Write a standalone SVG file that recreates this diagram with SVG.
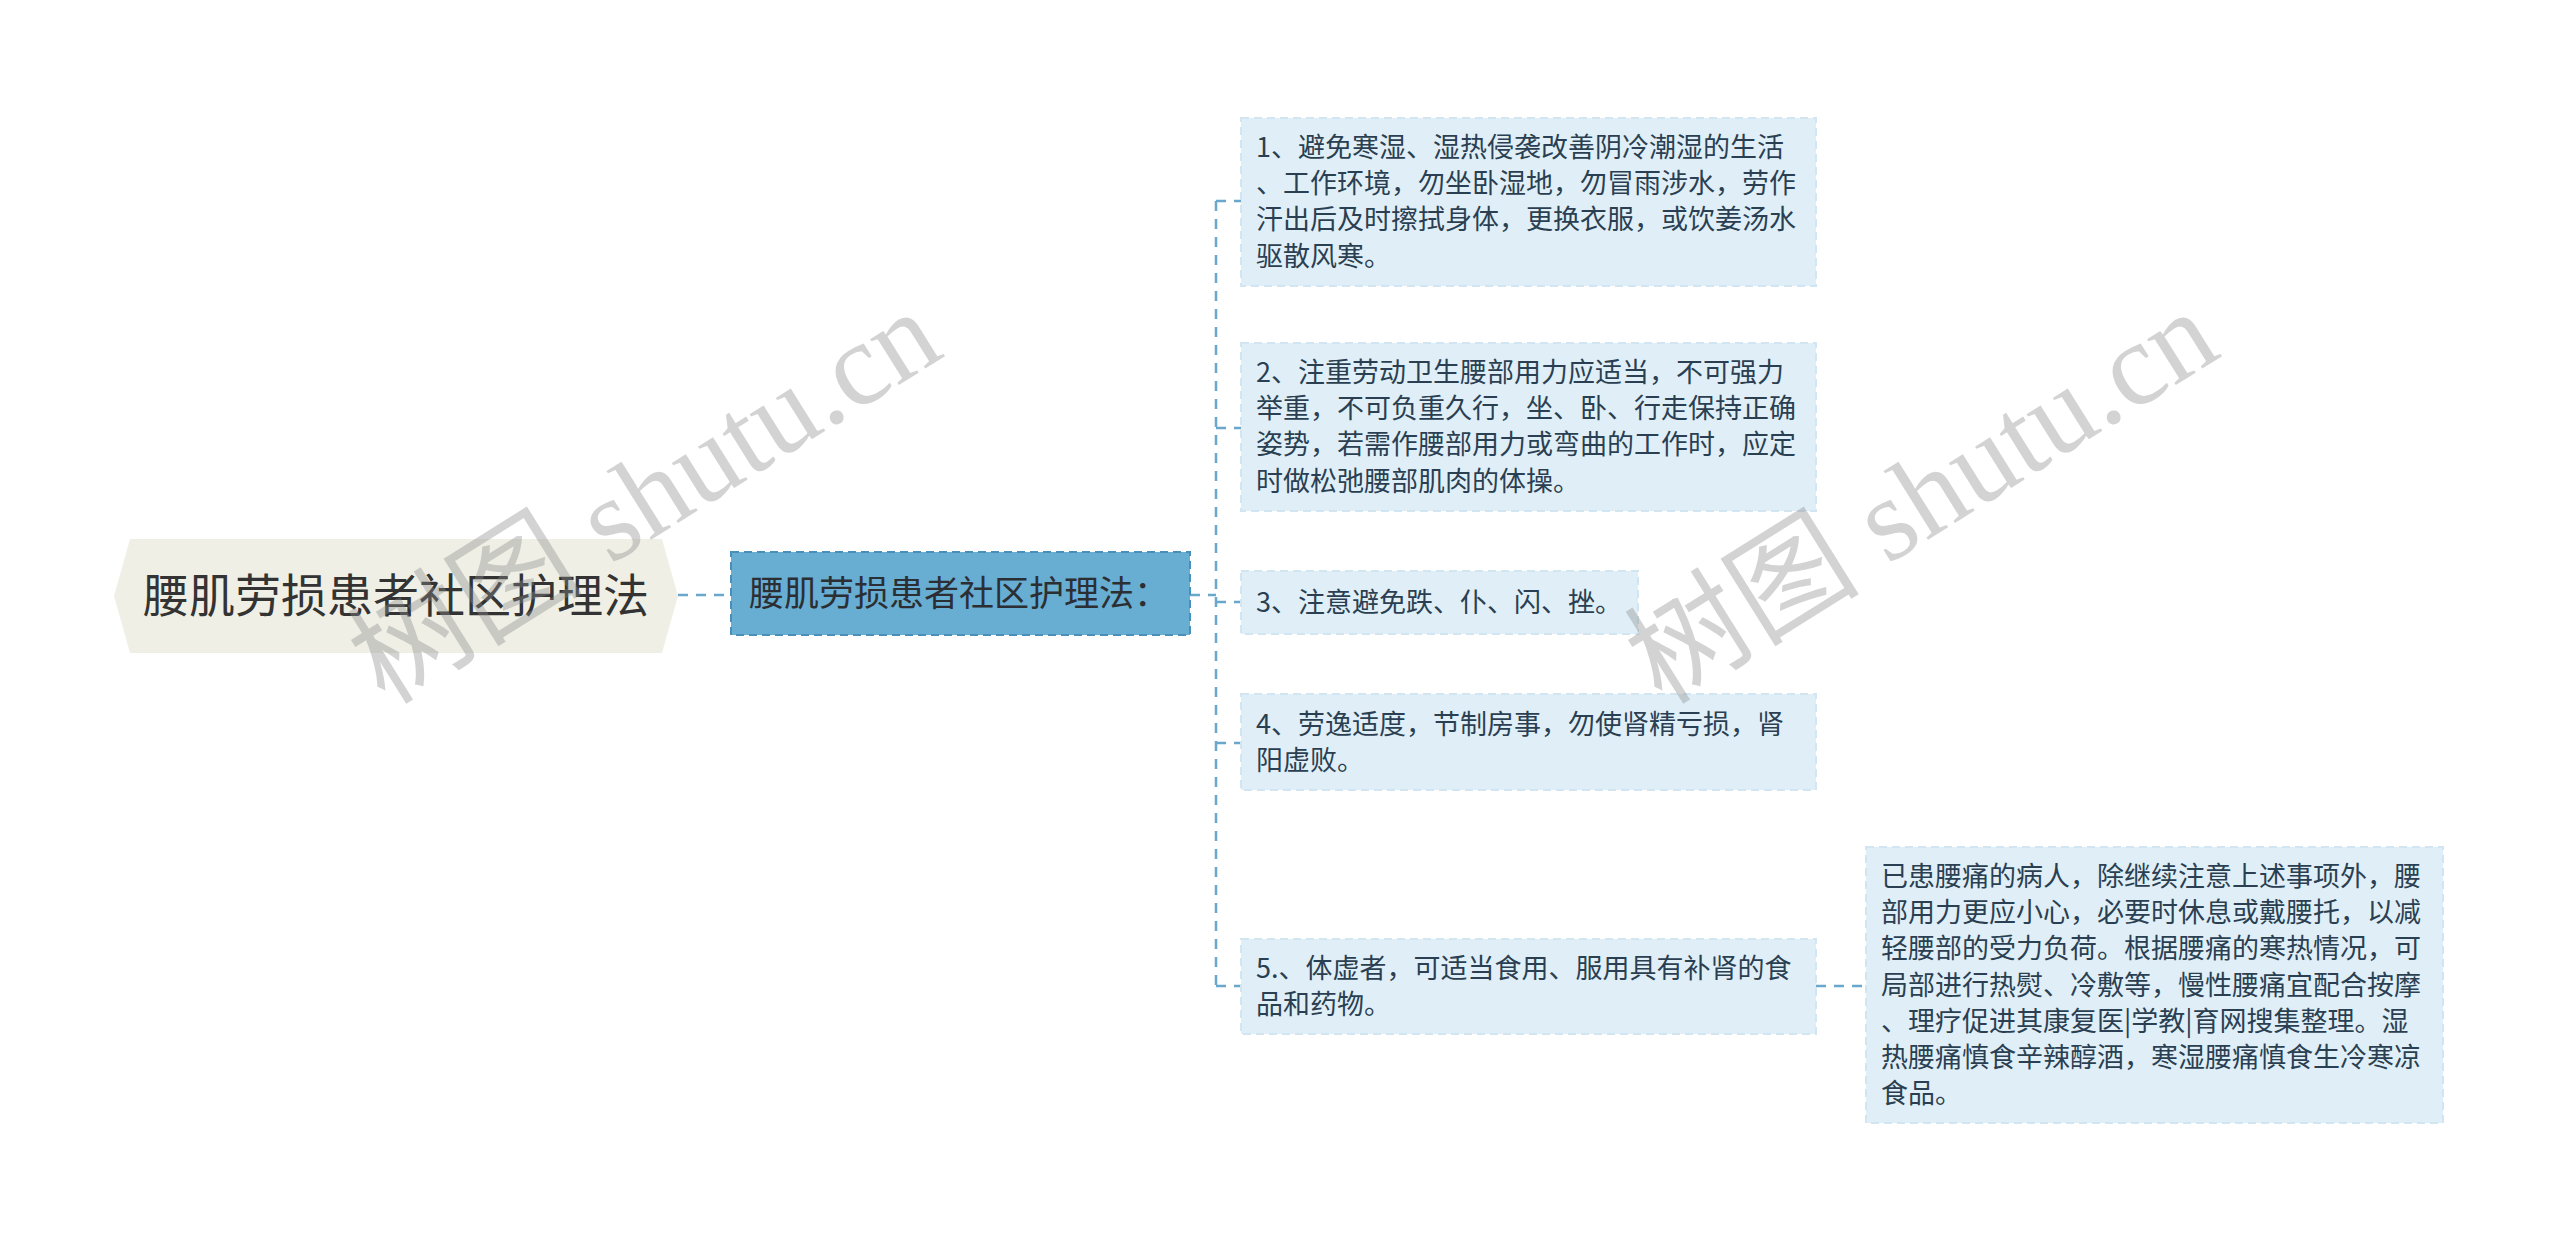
<svg xmlns="http://www.w3.org/2000/svg" width="2560" height="1241" viewBox="0 0 2560 1241">
<defs>
<style>
.cjk{font-family:"Noto Sans CJK SC","Noto Sans",sans-serif;}
.leaf rect{fill:#e0eff7;stroke:#d2e6f1;stroke-width:2;stroke-dasharray:8 5;}
.leaf text{font-size:27px;fill:#2b3f52;}
.conn{fill:none;stroke:#6aa7cc;stroke-width:2.5;stroke-dasharray:10 8;}
.wm{font-family:"Liberation Serif","Noto Sans CJK SC",serif;font-size:118px;fill:#8c8c8c;fill-opacity:0.38;}
</style>
</defs>
<rect width="2560" height="1241" fill="#ffffff"/>
<g id="connectors">
<path class="conn" d="M678 595 H731"/>
<path class="conn" d="M1190 595 H1216"/>
<path class="conn" d="M1216 201 V986"/>
<path class="conn" d="M1216 201 H1241"/>
<path class="conn" d="M1216 428 H1241"/>
<path class="conn" d="M1216 602 H1241"/>
<path class="conn" d="M1216 743 H1241"/>
<path class="conn" d="M1216 986 H1241"/>
<path class="conn" d="M1816 986 H1866"/>
</g>
<g id="root">
<polygon points="114,596 130,539 662,539 678,596 662,653 130,653" fill="#efefe6"/>
<text class="cjk" x="396" y="612" font-size="46" fill="#333333" text-anchor="middle">腰肌劳损患者社区护理法</text>
</g>
<g id="sub">
<rect x="731" y="552" width="459" height="83" fill="#68add2" stroke="#4a8fba" stroke-width="2" stroke-dasharray="8 5"/>
<text class="cjk" x="749" y="606" font-size="35" fill="#2b2f33">腰肌劳损患者社区护理法：</text>
</g>
<g id="leaf1" class="leaf cjk">
<rect x="1241" y="118" width="575" height="168"/>
<text x="1256"><tspan x="1256" y="157">1、避免寒湿、湿热侵袭改善阴冷潮湿的生活</tspan><tspan x="1256" y="193">、工作环境，勿坐卧湿地，勿冒雨涉水，劳作</tspan><tspan x="1256" y="229">汗出后及时擦拭身体，更换衣服，或饮姜汤水</tspan><tspan x="1256" y="266">驱散风寒。</tspan></text>
</g>
<g id="leaf2" class="leaf cjk">
<rect x="1241" y="343" width="575" height="168"/>
<text x="1256"><tspan x="1256" y="382">2、注重劳动卫生腰部用力应适当，不可强力</tspan><tspan x="1256" y="418">举重，不可负重久行，坐、卧、行走保持正确</tspan><tspan x="1256" y="454">姿势，若需作腰部用力或弯曲的工作时，应定</tspan><tspan x="1256" y="491">时做松弛腰部肌肉的体操。</tspan></text>
</g>
<g id="leaf3" class="leaf cjk">
<rect x="1241" y="571" width="397" height="63"/>
<text x="1256" y="612">3、注意避免跌、仆、闪、挫。</text>
</g>
<g id="leaf4" class="leaf cjk">
<rect x="1241" y="694" width="575" height="96"/>
<text x="1256"><tspan x="1256" y="734">4、劳逸适度，节制房事，勿使肾精亏损，肾</tspan><tspan x="1256" y="770">阳虚败。</tspan></text>
</g>
<g id="leaf5" class="leaf cjk">
<rect x="1241" y="939" width="575" height="95"/>
<text x="1256"><tspan x="1256" y="978">5.、体虚者，可适当食用、服用具有补肾的食</tspan><tspan x="1256" y="1014">品和药物。</tspan></text>
</g>
<g id="leaf6" class="leaf cjk">
<rect x="1866" y="847" width="577" height="276"/>
<text x="1881"><tspan x="1881" y="886">已患腰痛的病人，除继续注意上述事项外，腰</tspan><tspan x="1881" y="922">部用力更应小心，必要时休息或戴腰托，以减</tspan><tspan x="1881" y="958">轻腰部的受力负荷。根据腰痛的寒热情况，可</tspan><tspan x="1881" y="995">局部进行热熨、冷敷等，慢性腰痛宜配合按摩</tspan><tspan x="1881" y="1031">、理疗促进其康复医|学教|育网搜集整理。湿</tspan><tspan x="1881" y="1067">热腰痛慎食辛辣醇酒，寒湿腰痛慎食生冷寒凉</tspan><tspan x="1881" y="1103">食品。</tspan></text>
</g>
<g id="watermarks">
<text class="wm" transform="translate(385,706) rotate(-32)">树图 shutu.cn</text>
<text class="wm" transform="translate(1662,706) rotate(-32)">树图 shutu.cn</text>
</g>
</svg>
